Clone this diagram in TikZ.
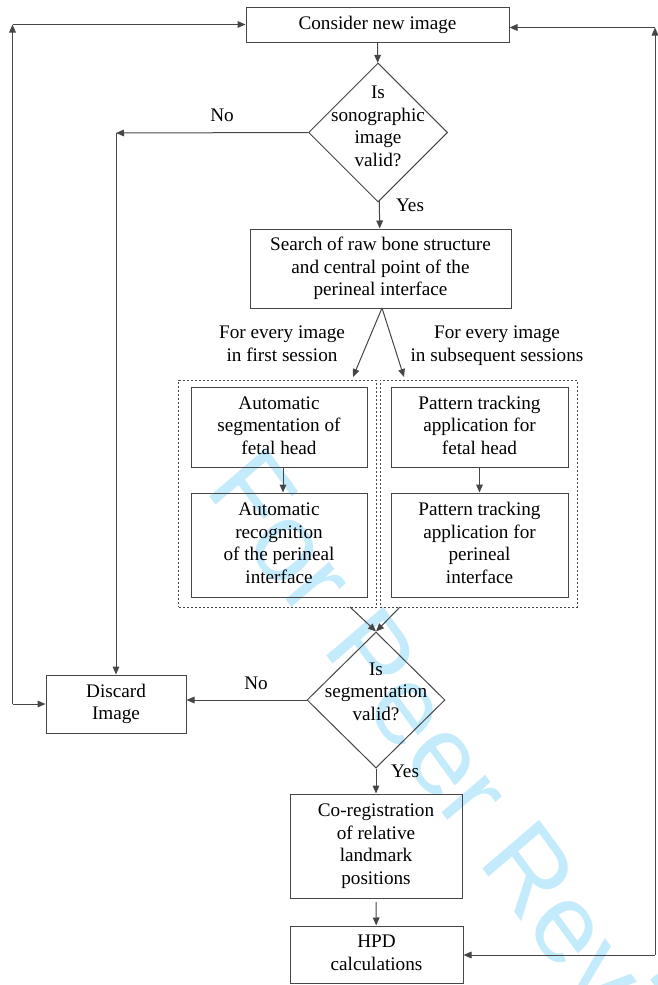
\documentclass[tikz,border=0pt]{standalone}
\usepackage{fontspec}
\setmainfont{Liberation Serif}
\newfontfamily\wmfont{Liberation Sans}
\usetikzlibrary{shapes.geometric,arrows.meta}
\definecolor{ln}{RGB}{70,70,70}
\definecolor{wm}{RGB}{196,235,251}
\newcommand{\fs}{\fontsize{14.4pt}{16.9pt}\selectfont}
\newcommand{\st}{\rule[-3pt]{0pt}{12.8pt}}
\begin{document}
\begin{tikzpicture}[x=0.75pt,y=-0.75pt,
  box/.style={draw=ln, line width=0.75pt, rectangle, inner sep=0pt, align=center, font=\fs},
  dbox/.style={draw=ln, line width=0.6pt, dash pattern=on 1.5pt off 1.5pt, rectangle, inner sep=0pt},
  dia/.style={draw=ln, line width=0.75pt, diamond, inner sep=0pt},
  lbl/.style={inner sep=0pt, align=center, font=\fs},
  arr/.style={draw=ln, line width=0.75pt, -{Triangle[length=6pt,width=5pt]}},
  rarr/.style={draw=ln, line width=0.75pt, {Triangle[length=6pt,width=5pt]}-}]
\useasboundingbox (0,0) rectangle (657,985);
% watermark
\begin{scope}
\clip (0,0) rectangle (657,985);
\begin{scope}[yscale=1.08]
\node[inner sep=0pt, text=wm, font=\wmfont\fontsize{79pt}{79pt}\selectfont, transform shape, rotate=-51.6, anchor=base west] (wmk) at (204.7,453.4) {For Peer Review};
\end{scope}
\end{scope}
% nodes
\node[box, minimum width=197.25pt, minimum height=26.25pt] (consider) at (377.5,24.5) {\st Consider new image};
\node[dia, minimum width=104.25pt, minimum height=104.25pt] (d1) at (378,132.5) {};
\node[lbl] (d1t) at (378,128) {\st Is\\\st sonographic\\\st image\\\st valid?};
\node[box, minimum width=195.75pt, minimum height=59.25pt] (search) at (380.5,268.5) {\st Search of raw bone structure\\\st and central point of the\\\st perineal interface};
\node[lbl] (lab1) at (282,345.5) {\st For every image\\\st in first session};
\node[lbl] (lab2) at (497,345.5) {\st For every image\\\st in subsequent sessions};
\node[dbox, minimum width=148.125pt, minimum height=170.25pt] (dl) at (277.25,493.5) {};
\node[dbox, minimum width=147.75pt, minimum height=170.25pt] (dr) at (478.5,493.5) {};
\node[box, minimum width=132pt, minimum height=60pt] (a1) at (279,427) {\st Automatic\\\st segmentation of\\\st fetal head};
\node[box, minimum width=132pt, minimum height=78pt] (a2) at (279,545) {\st Automatic\\\st recognition\\\st of the perineal\\\st interface};
\node[box, minimum width=132.75pt, minimum height=60pt] (p1) at (479.5,427) {\st Pattern tracking\\\st application for\\\st fetal head};
\node[box, minimum width=132.75pt, minimum height=78pt] (p2) at (479.5,545) {\st Pattern tracking\\\st application for\\\st perineal\\\st interface};
\node[dia, minimum width=103.5pt, minimum height=102pt] (d2) at (376,700) {};
\node[lbl] (d2t) at (376,693) {\st Is\\\st segmentation\\\st valid?};
\node[box, minimum width=105pt, minimum height=43.5pt] (discard) at (116,704) {\st Discard\\\st Image};
\node[box, minimum width=129pt, minimum height=78pt] (coreg) at (376,846) {\st Co-registration\\\st of relative\\\st landmark\\\st positions};
\node[box, minimum width=129.75pt, minimum height=42.75pt] (hpd) at (376.5,954.5) {\st HPD\\\st calculations};
% labels
\node[lbl] (no1) at (222,117) {\st No};
\node[lbl] (yes1) at (410,207) {\st Yes};
\node[lbl] (no2) at (256,685) {\st No};
\node[lbl] (yes2) at (405,773) {\st Yes};
% coordinates
\coordinate (nc) at (116,133);
\coordinate (bl) at (353,377);
\coordinate (br) at (404,377);
\coordinate (bs) at (382,308);
\coordinate (c1) at (350,607);
\coordinate (c2) at (400,607);
\coordinate (L1) at (12.5,704);
\coordinate (L2) at (12.5,24.5);
\coordinate (R1) at (655,955);
\coordinate (R2) at (655,27.5);
\coordinate (cb) at (376,902);
% connectors
\draw[arr] (consider) -- (d1);
\draw[arr] (d1) -- (search);
\draw[arr] (d1.west) -- (nc);
\draw[arr] (nc) -- (discard.north);
\draw[arr] (bs) -- (bl);
\draw[arr] (bs) -- (br);
\draw[arr] ([xshift=3pt]a1.south) -- ([xshift=3pt]a2.north);
\draw[arr] (p1) -- (p2);
\draw[arr] (c1) -- (d2.north);
\draw[arr] (c2) -- (d2.north);
\draw[arr] (d2.west) -- (d2.west -| discard.east);
\draw[arr] (d2) -- (coreg);
\draw[arr] (cb) -- (hpd);
\draw[rarr] (discard.west) -- (L1);
\draw[arr] (L1) -- (L2);
\draw[arr] (L2) -- (consider.west);
\draw[rarr] (R1 -| hpd.east) -- (R1);
\draw[arr] (R1) -- (R2);
\draw[arr] (R2) -- (R2 -| consider.east);
\end{tikzpicture}
\end{document}
